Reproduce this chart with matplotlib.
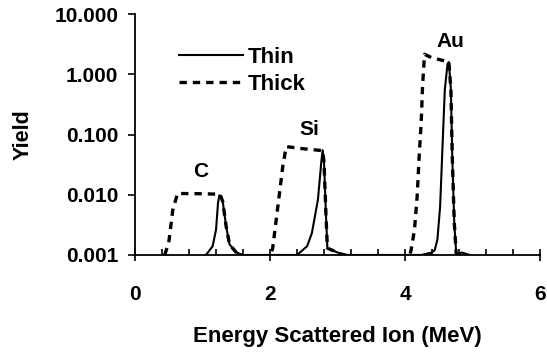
import numpy as np
import matplotlib
matplotlib.use("Agg")
import matplotlib.pyplot as plt
from matplotlib.ticker import MultipleLocator, FixedLocator, NullLocator, FormatStrFormatter

plt.rcParams['font.family'] = ['Liberation Sans', 'DejaVu Sans']
plt.rcParams['font.weight'] = 'bold'

# thin target spectrum (values at 0.0008 sit below the axis floor)
thin_x = [0.00, 0.98, 1.08, 1.15, 1.20, 1.23, 1.25, 1.27, 1.30, 1.35, 1.40, 1.50, 1.60,
          2.40, 2.55, 2.62, 2.71, 2.76, 2.78, 2.80, 2.83, 2.85, 3.00, 3.15,
          4.24, 4.40, 4.44, 4.48, 4.52, 4.56, 4.59, 4.63, 4.65, 4.68, 4.70, 4.73, 4.76, 4.84, 4.96]
thin_y = [0.0008, 0.0008, 0.0011, 0.0014, 0.0026, 0.0073, 0.0098, 0.0095, 0.0077, 0.0030, 0.0015, 0.0011, 0.0010,
          0.0010, 0.0014, 0.0023, 0.0083, 0.035, 0.055, 0.035, 0.0044, 0.0013, 0.0011, 0.0010,
          0.0010, 0.0011, 0.0012, 0.0018, 0.0063, 0.083, 0.56, 1.48, 1.6, 0.56, 0.044, 0.0034, 0.0010, 0.0011, 0.0010]

# thick target spectrum
thick_x = [0.44, 0.50, 0.56, 0.63, 1.00, 1.25, 1.27, 1.30, 1.35, 1.40, 1.50, 1.60,
           1.98, 2.04, 2.11, 2.19, 2.24, 2.50, 2.78, 2.80, 2.83, 2.85, 3.00, 3.10,
           4.05, 4.09, 4.14, 4.18, 4.21, 4.24, 4.26, 4.29, 4.39, 4.63, 4.65, 4.68, 4.70, 4.73, 4.76, 4.84]
thick_y = [0.0010, 0.0016, 0.0056, 0.0105, 0.0104, 0.0102, 0.0095, 0.0077, 0.0030, 0.0015, 0.0011, 0.0008,
           0.0008, 0.0013, 0.0056, 0.030, 0.063, 0.058, 0.054, 0.035, 0.0044, 0.0013, 0.0011, 0.0008,
           0.0008, 0.0012, 0.0026, 0.0094, 0.044, 0.16, 0.64, 2.15, 1.9, 1.62, 1.6, 0.56, 0.044, 0.0034, 0.0010, 0.0008]

elements = ['C', 'Si', 'Au']
label_x = [0.98, 2.58, 4.68]
label_y = [0.024, 0.12, 3.5]

yticks = [0.001, 0.01, 0.1, 1, 10]

fig = plt.figure(figsize=(5.47, 3.54), dpi=100)
ax = fig.add_axes([0.2468, 0.2797, 0.7404, 0.6805])

ax.plot(thin_x, thin_y, color='black', lw=1.5, label='Thin')
ax.plot(thick_x, thick_y, color='black', lw=2.4, linestyle=(0, (2.2, 1.8)), label='Thick')

for name, lx, ly in zip(elements, label_x, label_y):
    ax.text(lx, ly, name, ha='center', va='center', fontsize=15, fontweight='bold')

ax.set_yscale('log')
ax.set_xlim(0, 6)
ax.set_ylim(0.001, 10)
ax.yaxis.set_major_locator(FixedLocator(yticks))
ax.yaxis.set_minor_locator(NullLocator())
ax.yaxis.set_major_formatter(FormatStrFormatter('%.3f'))
ax.xaxis.set_major_locator(MultipleLocator(2))
ax.xaxis.set_minor_locator(MultipleLocator(0.4))

for s in ['top', 'right']:
    ax.spines[s].set_visible(False)
for s in ['left', 'bottom']:
    ax.spines[s].set_linewidth(1.3)

ax.tick_params(axis='y', which='major', direction='out', length=5, width=1.2, pad=7, labelsize=15)
ax.tick_params(axis='x', which='major', direction='inout', length=9, width=1.2, pad=17, labelsize=15)
ax.tick_params(axis='x', which='minor', direction='in', length=4.5, width=1.2)
for lab in ax.get_xticklabels() + ax.get_yticklabels():
    lab.set_fontweight('bold')

ax.set_xlabel('Energy Scattered Ion (MeV)', fontsize=16, fontweight='bold', labelpad=16)
ax.set_ylabel('Yield', fontsize=15.5, fontweight='bold', labelpad=15)

ax.legend(loc='upper left', bbox_to_anchor=(0.108, 0.865), frameon=False,
          prop={'size': 16, 'weight': 'bold'},
          handlelength=2.9, handletextpad=0.2, labelspacing=0.3, borderpad=0, borderaxespad=0)

fig.savefig('out.png', dpi=100)
